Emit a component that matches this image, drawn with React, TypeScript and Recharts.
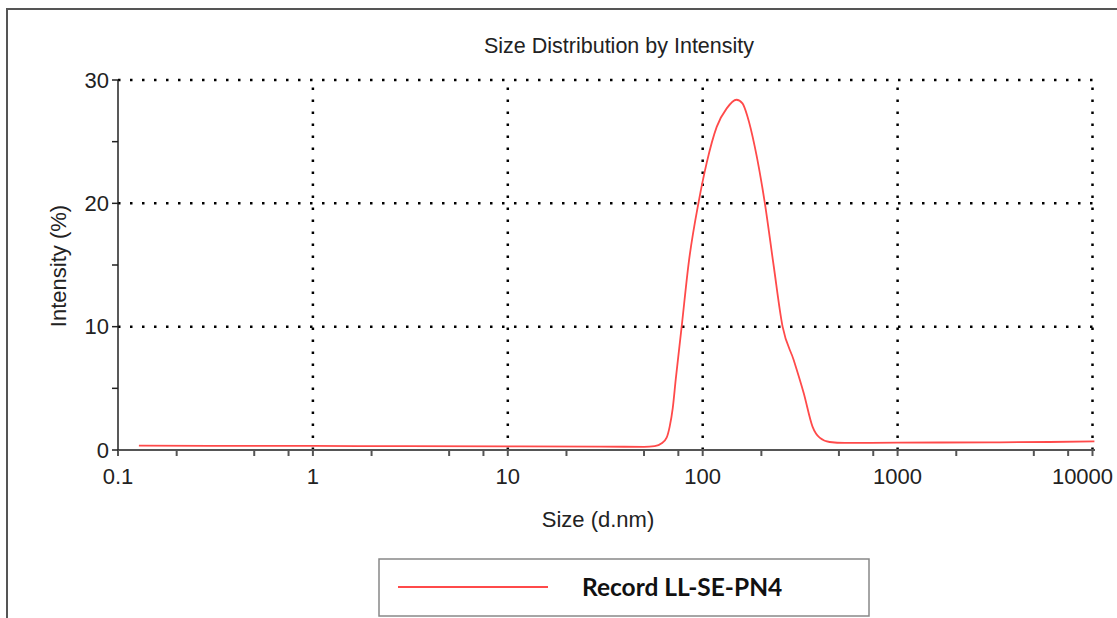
import { LineChart, Line, XAxis, YAxis, ReferenceLine } from 'recharts';

// particle size (d.nm) and intensity (%)
const sizes = [
  0.128, 0.3, 1, 3, 10, 30, 50, 56.7, 61.6, 65.3, 67.7, 70.2, 72.7, 78.0, 84.8, 95.3, 104.9, 118, 132.8, 149, 160, 170,
  185, 208, 231, 257, 293, 330, 366, 398, 448, 535, 1000, 3000, 6000, 10230,
];
const intensity = [
  0.35, 0.34, 0.33, 0.31, 0.29, 0.27, 0.26, 0.32, 0.55, 1.0, 1.9, 3.4, 5.7, 10.0, 15.2, 20.1, 23.3, 26.2, 27.7, 28.4,
  28.1, 27.0, 24.6, 20.1, 15.0, 10.0, 7.3, 4.6, 1.9, 1.0, 0.65, 0.57, 0.6, 0.62, 0.65, 0.7,
];

const xTicks = [
  0.1, 0.2, 0.5, 0.75, 1, 2, 5, 7.5, 10, 20, 50, 75, 100, 200, 500, 750, 1000, 2000, 5000, 7500, 10000,
];
const xLabels = [0.1, 1, 10, 100, 1000, 10000];
const yTicks = [0, 5, 10, 15, 20, 25, 30];
const yLabels = [0, 10, 20, 30];
const xGrid = [1, 10, 100, 1000, 10000];
const yGrid = [10, 20, 30];

const seriesName = 'Record LL-SE-PN4';
const title = 'Size Distribution by Intensity';
const xTitle = 'Size (d.nm)';
const yTitle = 'Intensity (%)';

const data = sizes.map((s, i) => ({ size: s, value: intensity[i] }));

const font = '"Liberation Sans", Arial, sans-serif';
const dotted = { stroke: '#000', strokeWidth: 2.5, strokeDasharray: '2.5 9.5' };

function SizeTick(props: any) {
  const { x, y, payload } = props;
  const v = payload.value;
  if (!xLabels.includes(v)) return null;
  // the last label sits a little inside the edge, as in the original plot
  const shift = v === 10000 ? -10 : 0;
  return (
    <text x={x + shift} y={y} dy="0.71em" textAnchor="middle" fontSize={22} fontFamily={font} fill="#222">
      {String(v)}
    </text>
  );
}

export default function App() {
  return (
    <div style={{ position: 'absolute', left: 0, top: 0, width: 1117, height: 618, background: '#fff' }}>
      <LineChart width={1117} height={618} data={data} margin={{ top: 80, right: 22, bottom: 128, left: 58 }}>
        {xGrid.map((v) => (
          <ReferenceLine key={'x' + v} x={v} {...dotted} />
        ))}
        {yGrid.map((v) => (
          <ReferenceLine key={'y' + v} y={v} {...dotted} />
        ))}
        <XAxis
          dataKey="size"
          type="number"
          scale="log"
          domain={[0.1, 10300]}
          ticks={xTicks}
          height={40}
          tickSize={6}
          tickMargin={12}
          stroke="#555"
          strokeWidth={2}
          tick={<SizeTick />}
          interval={0}
        />
        <YAxis
          type="number"
          domain={[0, 30]}
          ticks={yTicks}
          tickFormatter={(v: number) => (yLabels.includes(v) ? String(v) : '')}
          width={60}
          tickSize={6}
          tickMargin={3}
          stroke="#222"
          strokeWidth={1.5}
          tick={{ fill: '#222', fontSize: 22, fontFamily: font }}
          interval={0}
        />
        <Line
          type="monotone"
          dataKey="value"
          stroke="#ff4a4a"
          strokeWidth={1.8}
          dot={false}
          isAnimationActive={false}
        />
      </LineChart>

      <svg width={1117} height={618} style={{ position: 'absolute', left: 0, top: 0, pointerEvents: 'none' }}>
        <path d="M7 618 L7 9 L1117 9" fill="none" stroke="#555" strokeWidth={2} />
        <text x={619} y={53} textAnchor="middle" fontSize={21.5} fontFamily={font} fill="#222">
          {title}
        </text>
        <text x={598} y={527} textAnchor="middle" fontSize={22} fontFamily={font} fill="#222">
          {xTitle}
        </text>
        <text
          x={0}
          y={0}
          transform="translate(66 266) rotate(-90)"
          textAnchor="middle"
          fontSize={22}
          fontFamily={font}
          fill="#222"
        >
          {yTitle}
        </text>
        <rect x={379} y={559} width={490} height={57} fill="#fff" stroke="#888" strokeWidth={1.5} />
        <line x1={398} y1={587} x2={548} y2={587} stroke="#ff4a4a" strokeWidth={1.8} />
        <text x={582} y={596} fontSize={24.5} fontWeight="bold" fontFamily="Lato, sans-serif" fill="#111">
          {seriesName}
        </text>
      </svg>
    </div>
  );
}
